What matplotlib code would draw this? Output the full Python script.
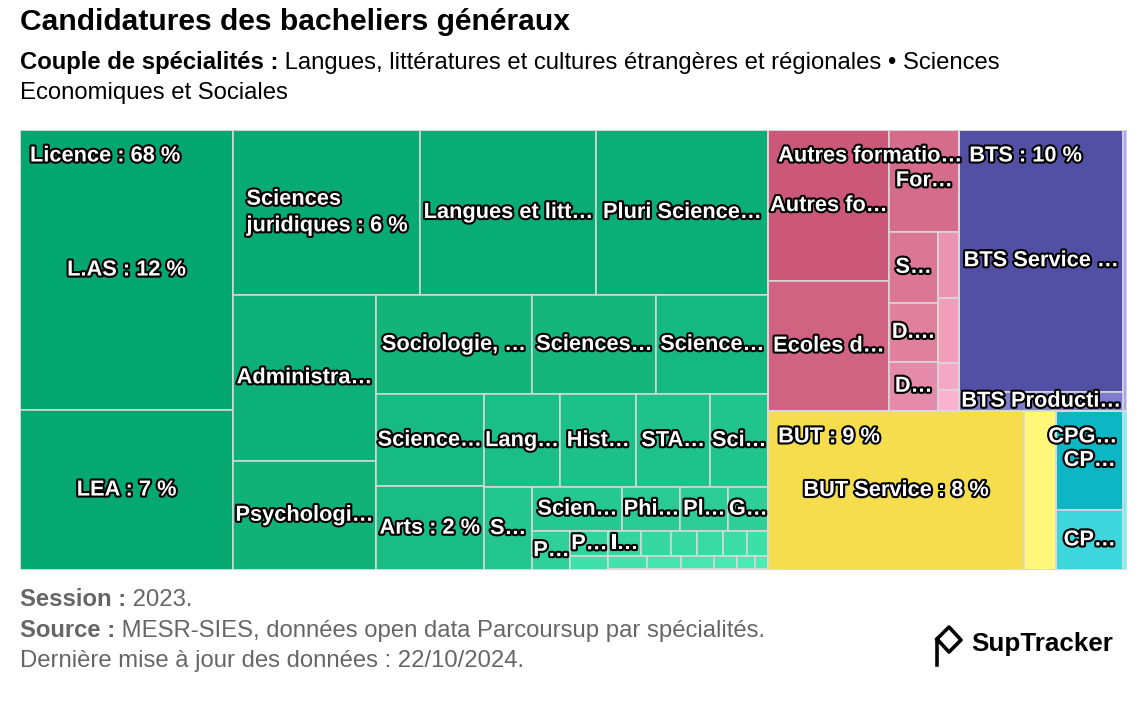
import numpy as np
import matplotlib
matplotlib.use("Agg")
import matplotlib.pyplot as plt
from matplotlib.patches import Rectangle
from matplotlib.lines import Line2D
import matplotlib.patheffects as pe

plt.rcParams['font.family'] = ['Liberation Sans', 'DejaVu Sans']

# part des candidatures (en %)
licence_noms = [
    "L.AS", "LEA", "Sciences\njuridiques", "Langues et littératures étrangères",
    "Pluri Sciences humaines et sociales", "Administration économique et sociale",
    "Psychologie", "Sociologie, Démographie", "Sciences politiques",
    "Sciences de gestion", "Sciences de l'éducation", "Arts",
    "Langues et littératures anciennes", "Histoire", "STAPS",
    "Sciences de l'information et de la communication", "Sciences économiques",
    "Sciences du langage", "Philosophie", "Pluri Lettres-langues", "Géographie",
    "Pluri Droit-économie-gestion", "Pluri Sciences", "Information-communication",
    "Mathématiques", "Chimie", "Economie", "Lettres", "Musicologie",
    "Théologie", "Mathématiques appliquées", "Mécanique", "Biologie",
    "Physique", "Ethnologie", "Aménagement", "Electronique",
]
licence_parts = [
    12.19, 6.96, 6.30, 5.93, 5.79, 4.81, 3.18, 3.17, 2.51, 2.26, 2.04, 1.85,
    1.45, 1.44, 1.41, 1.10, 0.82, 0.81, 0.52, 0.43, 0.36, 0.30, 0.195, 0.17,
    0.154, 0.133, 0.132, 0.123, 0.108, 0.105, 0.10, 0.09, 0.085, 0.06, 0.045,
    0.035, 0.03,
]

autres_noms = [
    "Autres formations post-bac", "Ecoles de commerce", "Formations paramédicales",
    "Sciences Po / IEP", "D.N. MADE", "DEUST", "Ecoles d'art", "Mise à niveau",
    "Certificats de spécialisation", "Mentions complémentaires",
]
autres_parts = [3.74, 3.21, 1.45, 0.71, 0.58, 0.49, 0.29, 0.28, 0.12, 0.09]

bts_noms = ["BTS Service", "BTS Production", "BTS Agricole"]
bts_parts = [8.74, 0.65, 0.23]

but_noms = ["BUT Service", "BUT Production"]
but_parts = [8.30, 1.05]

cpge_noms = ["CPGE Economique et commerciale", "CPGE Littéraire", "CPGE Scientifique"]
cpge_parts = [1.35, 0.82, 0.13]

groupes = ["Licence", "Autres formations", "BTS", "BUT", "CPGE"]
groupes_enfants = [
    (licence_noms, licence_parts),
    (autres_noms, autres_parts),
    (bts_noms, bts_parts),
    (but_noms, but_parts),
    (cpge_noms, cpge_parts),
]
# couleur du premier et du dernier enfant de chaque groupe
couleurs = {
    "Licence": ((3, 166, 110), (78, 238, 184)),
    "Autres formations": ((203, 88, 121), (250, 178, 205)),
    "BTS": ((82, 80, 165), (172, 168, 240)),
    "BUT": ((245, 221, 77), (255, 246, 122)),
    "CPGE": ((12, 182, 196), (110, 246, 246)),
}


def ratio(w, h):
    with np.errstate(all='ignore'):
        a = np.float64(w) / np.float64(h)
        b = np.float64(h) / np.float64(w)
    if np.isnan(a) or np.isnan(b):
        return np.nan
    return max(a, b)


def div(a, b):
    with np.errstate(all='ignore'):
        return np.float64(a) / np.float64(b)


class Groupe:
    def __init__(self, h, w, d):
        self.height, self.width, self.direction = h, w, d
        self.total = 0.0
        self.nW = self.lW = self.nH = self.lH = 0.0
        self.el = []
        self.nR = self.lR = np.nan

    def add(self, v):
        last = self.el[-1] if self.el else np.nan
        self.total += v
        if self.direction == 0:
            self.lW = self.nW
            self.lR = ratio(self.lW, div(last, self.lW))
            self.nW = self.total / self.height
            self.nR = ratio(self.nW, div(last, self.nW))
        else:
            self.lH = self.nH
            self.lR = ratio(div(last, self.lH), self.lH)
            self.nH = self.total / self.width
            self.nR = ratio(div(last, self.nH), self.nH)
        self.el.append(v)

    def reset(self):
        self.nW = self.lW = 0.0
        self.el = []
        self.total = 0.0


def squarified(x, y, w, h, values):
    # algorithme "squarified" de Highcharts, direction de depart verticale
    total = sum(values)
    out = []
    plot = {'x': x, 'y': y}
    g = Groupe(h, w, 0)

    def calc(last):
        if last:
            gW, gH = g.nW, g.nH
        else:
            gW, gH = g.lW, g.lH
            keep = g.el[-1]
        n = len(g.el)
        for i, p in enumerate(g.el):
            if last or i < n - 1:
                if g.direction == 0:
                    pw, ph = gW, p / gW
                else:
                    ph, pw = gH, p / gH
                out.append((plot['x'], plot['y'], pw, ph))
                if g.direction == 0:
                    plot['y'] += ph
                else:
                    plot['x'] += pw
        g.reset()
        if g.direction == 0:
            g.width -= gW
        else:
            g.height -= gH
        plot['y'] = y + (h - g.height)
        plot['x'] = x + (w - g.width)
        g.direction = 1 - g.direction
        if not last:
            g.add(keep)

    for i, v in enumerate(values):
        g.add(w * h * v / total)
        if g.nR > g.lR:
            calc(False)
        if i == len(values) - 1:
            calc(True)
    return out


W_PX, H_PX = 1148, 728
X0, Y0, TW, TH = 20, 130, 1107, 440
fig = plt.figure(figsize=(W_PX / 100, H_PX / 100), dpi=100)
ax = fig.add_axes([X0 / W_PX, 1 - (Y0 + TH) / H_PX, TW / W_PX, TH / H_PX])
ax.set_xlim(0, TW)
ax.set_ylim(TH, 0)
ax.axis('off')
renderer = fig.canvas.get_renderer()

contour = pe.withStroke(linewidth=3, foreground='black')
style_lbl = dict(color='white', fontweight='bold', fontsize=15.7,
                 path_effects=[contour], zorder=5)

totaux = [sum(p) for _, p in groupes_enfants]
total = sum(totaux)
ordre = np.argsort(totaux)[::-1]
rects_groupes = squarified(0, 0, TW, TH, [totaux[k] for k in ordre])


def pct(v):
    return int(np.floor(v / total * 100 + 0.5))


def largeur(t):
    return t.get_window_extent(renderer).width


def ajuster(t, texte, dispo):
    t.set_text(texte)
    if largeur(t) <= dispo:
        return
    texte = texte.replace("\n", " ")
    for k in range(len(texte) - 1, 0, -1):
        t.set_text(texte[:k] + "…")
        if largeur(t) <= dispo:
            return
    t.set_text(texte[0] + "…")


for k, (gx, gy, gw, gh) in zip(ordre, rects_groupes):
    noms, parts = groupes_enfants[k]
    c0, c1 = couleurs[groupes[k]]
    idx = np.argsort(parts, kind='stable')[::-1]
    cells = squarified(gx, gy, gw, gh, [parts[i] for i in idx])
    n = len(idx)
    for j, (i, (cx, cy, cw, ch)) in enumerate(zip(idx, cells)):
        f = j / (n - 1) if n > 1 else 0
        col = tuple((a + (b - a) * f) / 255 for a, b in zip(c0, c1))
        ax.add_patch(Rectangle((cx, cy), cw, ch, facecolor=col,
                               edgecolor='#d9d9d9', linewidth=1.1, zorder=1))
        if ch < 16:
            continue
        t = ax.text(cx + cw / 2, cy + ch / 2, noms[i][0] + "…", ha='center',
                    va='center', multialignment='left', linespacing=1.35,
                    **style_lbl)
        if largeur(t) > cw:
            t.remove()
            continue
        ajuster(t, f"{noms[i]} : {pct(parts[i])} %", cw - 2)
    ax.add_patch(Rectangle((gx, gy), gw, gh, facecolor='none',
                           edgecolor='#d9d9d9', linewidth=1.3, zorder=2))
    t = ax.text(gx + 10, gy + 26, "", ha='left', va='center', **style_lbl)
    t.set_zorder(6)
    ajuster(t, f"{groupes[k]} : {pct(totaux[k])} %", gw - 1)
    tw = largeur(t)
    if gx + 10 + tw > TW - 10:
        t.set_x(TW - 10 - tw)


def fx(x):
    return x / W_PX


def fy(y):
    return 1 - y / H_PX


def ligne(x, y, gras, normal, size, color):
    t = fig.text(fx(x), fy(y), gras, fontsize=size, fontweight='bold',
                 color=color, va='baseline', ha='left')
    w = largeur(t)
    fig.text(fx(x + w), fy(y), normal, fontsize=size, color=color,
             va='baseline', ha='left')


fig.text(fx(20), fy(30), "Candidatures des bacheliers généraux", fontsize=21.6,
         fontweight='bold', color='black', va='baseline', ha='left')
ligne(20, 69, "Couple de spécialités :",
      " Langues, littératures et cultures étrangères et régionales • Sciences",
      17.2, 'black')
fig.text(fx(20), fy(99), "Economiques et Sociales", fontsize=17.2, color='black',
         va='baseline', ha='left')

gris = '#666666'
ligne(20, 606, "Session :", " 2023.", 17.2, gris)
ligne(20, 637, "Source :",
      " MESR-SIES, données open data Parcoursup par spécialités.", 17.2, gris)
fig.text(fx(20), fy(667), "Dernière mise à jour des données : 22/10/2024.",
         fontsize=17.2, color=gris, va='baseline', ha='left')

# logo SupTracker
px = [937, 937, 949, 961, 949, 937]
py = [665, 639, 627, 640, 652, 639]
fig.add_artist(Line2D([fx(v) for v in px], [fy(v) for v in py], color='black',
                      linewidth=2.6, solid_joinstyle='round',
                      transform=fig.transFigure))
fig.text(fx(971), fy(651), "SupTracker", fontsize=18.7, fontweight='bold',
         color='black', va='baseline', ha='left')

fig.savefig("out.png", dpi=100)
